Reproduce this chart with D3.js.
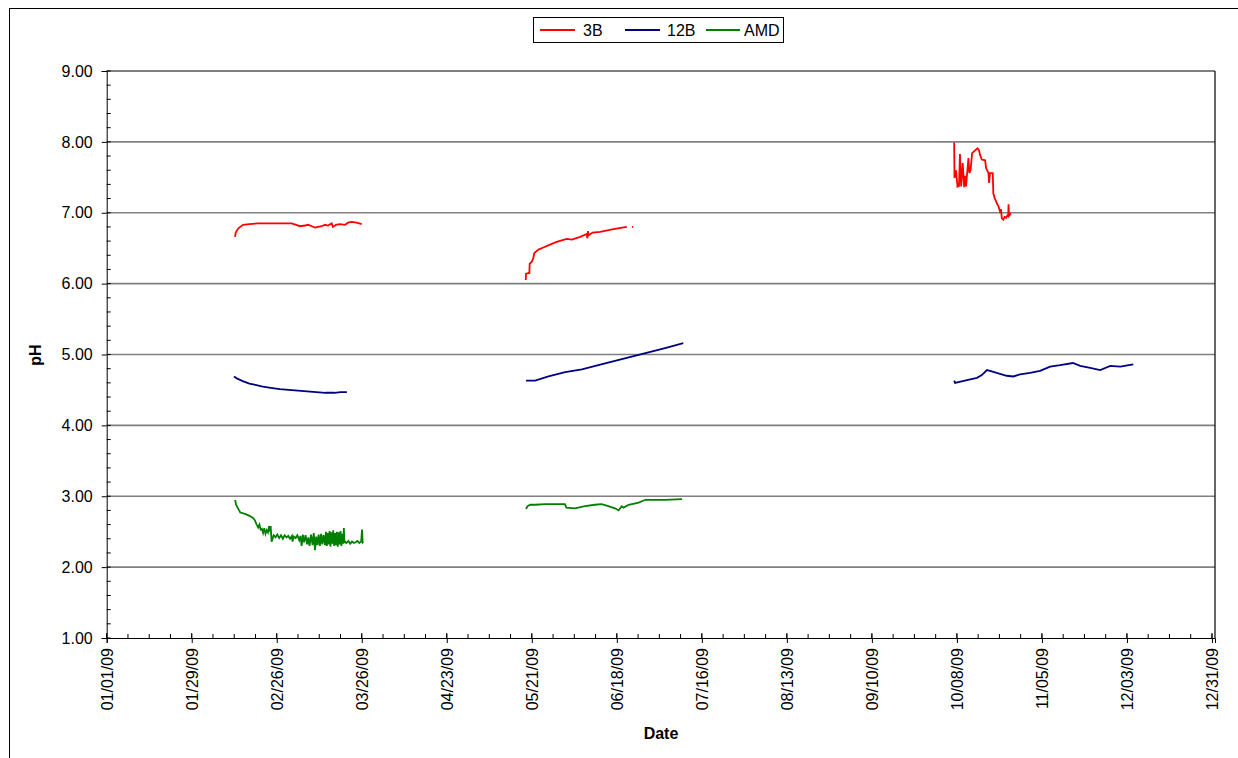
<!DOCTYPE html>
<html><head><meta charset="utf-8">
<script src="https://cdn.jsdelivr.net/npm/d3@7"></script>
<style>
html,body{margin:0;padding:0;background:#fff;}
svg{display:block;font-family:"Liberation Sans",Arial,sans-serif;}
</style></head>
<body>
<svg id="chart" width="1238" height="758"></svg>
<script>
// ---- data (day offsets since 01/01/09, pH values; null = gap) ----
const seriesNames = ["3B", "12B", "AMD"];
const seriesColors = ["#ff0000", "#000080", "#008000"];

const b3Days = [42.26,42.5,43.35,44.9,47,49.8,55.4,60.9,62.4,63.7,65.3,66.3,67.6,68.6,69.6,70.8,71.9,72.9,74.1,74.5,75.5,76.8,78.5,79.5,80.7,82.3,84.0,
  null,
  138.0,138.1,139.2,139.3,140.0,140.5,140.8,142.2,143.8,146.0,148.2,151.5,153.2,155.9,158.1,158.3,158.5,158.7,160,162.5,166.9,171.3,
  null,
  173.0,173.4,
  null,
  279.1,279.2,279.7,280.2,280.7,281.0,281.4,281.9,282.4,282.7,283.0,283.8,284.1,284.5,285.0,286.0,286.8,287.3,287.6,288.2,289.3,289.6,290.4,290.6,290.9,291.8,292.0,292.5,292.9,293.3,293.7,294.2,294.5,294.8,295.3,295.7,296.2,296.6,296.9,297.0,297.2,297.8];
const b3Vals = [6.66,6.72,6.78,6.83,6.84,6.85,6.85,6.85,6.83,6.81,6.82,6.83,6.81,6.79,6.80,6.81,6.83,6.82,6.85,6.80,6.83,6.84,6.83,6.86,6.87,6.86,6.84,
  null,
  6.05,6.14,6.15,6.28,6.31,6.36,6.43,6.48,6.51,6.55,6.59,6.63,6.62,6.66,6.70,6.64,6.74,6.68,6.72,6.73,6.77,6.80,
  null,
  6.80,6.80,
  null,
  7.99,7.49,7.60,7.37,7.38,7.83,7.37,7.70,7.36,7.52,7.37,7.77,7.56,7.60,7.84,7.88,7.91,7.88,7.82,7.75,7.74,7.63,7.56,7.42,7.56,7.56,7.27,7.20,7.16,7.12,7.09,7.02,7.05,6.92,6.90,6.94,6.93,6.96,6.95,7.12,6.96,6.99];

const b12Days = [41.9,43,45,47,49,51,54,57,60,63,66,69,72,75,77,79.1,
  null,
  138.1,141.1,145.5,151.0,156.5,161.9,167.4,172.9,178.4,183.9,189.9,
  null,
  279.1,279.4,283.3,286.6,288.2,289.9,290.9,293.1,296.4,298.6,300.8,304.1,307.4,310.7,314.0,318.2,320.6,323.9,327.2,330.5,333.8,338.1];
const b12Vals = [4.69,4.66,4.62,4.59,4.57,4.55,4.53,4.51,4.50,4.49,4.48,4.47,4.46,4.46,4.47,4.47,
  null,
  4.63,4.63,4.69,4.75,4.79,4.85,4.91,4.97,5.03,5.09,5.16,
  null,
  4.63,4.60,4.64,4.67,4.71,4.78,4.77,4.74,4.70,4.69,4.72,4.74,4.77,4.83,4.85,4.88,4.84,4.81,4.78,4.84,4.83,4.86];

const amdDays = [42.3,42.6,43.6,44,45.6,47.2,48.3,48.8,49.4,49.9,50.3,50.7,51.1,51.5,51.9,52.3,52.7,53.1,53.5,53.8,54.0,54.3,
  55.0,55.6,56.2,56.8,57.4,58.0,58.6,59.2,59.8,60.4,61.0,61.2,61.6,62.2,62.8,63.4,
  63.8,64.2,64.6,65.0,65.5,66.0,66.4,66.8,67.3,67.8,68.2,68.6,69.0,69.4,69.8,70.2,70.6,71.0,71.4,71.9,
  72.2,72.5,72.8,73.1,73.4,73.7,74.0,74.3,74.6,74.9,75.2,75.5,75.8,76.1,76.4,76.7,77.0,77.3,77.6,77.9,78.1,78.3,78.5,
  79.0,79.6,80.2,80.8,81.4,82.0,82.6,83.2,83.8,84.1,84.3,84.5,
  null,
  138.1,138.6,139.5,141.1,144.4,150.9,151.4,154.2,157.5,160.8,163.0,165.2,167.4,168.6,169.6,170.2,171.9,175.2,177.4,183.9,189.5];
const amdVals = [2.95,2.88,2.80,2.77,2.75,2.72,2.69,2.66,2.60,2.56,2.60,2.53,2.54,2.48,2.55,2.47,2.52,2.49,2.58,2.50,2.58,2.36,
  2.45,2.42,2.46,2.41,2.45,2.40,2.45,2.42,2.44,2.40,2.44,2.36,2.43,2.41,2.45,2.38,
  2.44,2.30,2.46,2.35,2.45,2.32,2.42,2.30,2.46,2.31,2.48,2.24,2.43,2.31,2.46,2.30,2.47,2.32,2.45,2.31,
  2.50,2.30,2.48,2.32,2.51,2.29,2.49,2.33,2.52,2.30,2.48,2.31,2.50,2.29,2.49,2.32,2.51,2.30,2.47,2.33,2.55,2.34,2.36,
  2.34,2.37,2.33,2.36,2.34,2.35,2.37,2.34,2.36,2.53,2.35,2.36,
  null,
  2.82,2.86,2.88,2.88,2.89,2.89,2.84,2.83,2.86,2.88,2.89,2.86,2.83,2.80,2.86,2.84,2.88,2.91,2.95,2.95,2.96];

const yTickValues = [1,2,3,4,5,6,7,8,9];
const xMajorDays = [0,28,56,84,112,140,168,196,224,252,280,308,336,364];

// ---- chart ----
const svg = d3.select("#chart");
const pL = 106.7, pR = 1215, pT = 71, pB = 638;
const base = Date.UTC(2009,0,1);
const dayToDate = d => new Date(base + d*864e5);

const x = d3.scaleUtc().domain([dayToDate(0), dayToDate(365)]).range([pL, pR]);
const y = d3.scaleLinear().domain([1,9]).range([pB, pT]);

// outer chart frame (partially visible)
svg.append("rect").attr("x",9.5).attr("y",8.5).attr("width",1400).attr("height",900)
  .attr("fill","none").attr("stroke","#000").attr("stroke-width",1);

// gridlines
svg.append("g").selectAll("line").data(yTickValues.filter(v=>v>1 && v<9)).join("line")
  .attr("x1",pL).attr("x2",pR).attr("y1",d=>y(d)).attr("y2",d=>y(d))
  .attr("stroke","#808080").attr("stroke-width",1.6);

// plot border top/right
svg.append("line").attr("x1",pL).attr("x2",pR).attr("y1",pT).attr("y2",pT).attr("stroke","#555").attr("stroke-width",1.6);
svg.append("line").attr("x1",pR).attr("x2",pR).attr("y1",pT).attr("y2",pB).attr("stroke","#000").attr("stroke-width",1.2);

// y axis
const yMinor = d3.range(1, 9.001, 0.2);
const yAxisG = svg.append("g").attr("transform",`translate(${pL},0)`);
yAxisG.append("g").selectAll("line").data(yMinor).join("line")
  .attr("x1",0).attr("x2",4).attr("y1",d=>y(d)).attr("y2",d=>y(d)).attr("stroke","#000");
yAxisG.call(d3.axisLeft(y).tickValues(yTickValues).tickFormat(d3.format(".2f")).tickSizeOuter(0).tickSize(5).tickPadding(9))
  .call(g=>g.selectAll("text").attr("font-size",16).attr("fill","#000").attr("font-family","Liberation Sans, Arial, sans-serif"))
  .call(g=>g.selectAll("line,path").attr("stroke","#000"));

// x axis
const xMinor = d3.range(0, 366, 7).map(dayToDate);
const xAxisG = svg.append("g").attr("transform",`translate(0,${pB})`);
xAxisG.append("g").selectAll("line").data(xMinor).join("line")
  .attr("x1",d=>x(d)).attr("x2",d=>x(d)).attr("y1",0).attr("y2",-4).attr("stroke","#000");
xAxisG.append("g").selectAll("line").data(xMajorDays.map(dayToDate)).join("line")
  .attr("x1",d=>x(d)).attr("x2",d=>x(d)).attr("y1",-5).attr("y2",0).attr("stroke","#000");
xAxisG.call(d3.axisBottom(x).tickValues(xMajorDays.map(dayToDate)).tickFormat(d3.utcFormat("%m/%d/%y")).tickSizeOuter(0).tickSize(5))
  .call(g=>g.selectAll("line,path").attr("stroke","#000"))
  .call(g=>g.selectAll("text").attr("font-size",16).attr("fill","#000")
     .attr("font-family","Liberation Sans, Arial, sans-serif")
     .attr("transform","rotate(-90)").attr("text-anchor","end")
     .attr("x",-10).attr("y",0).attr("dy","0.36em"));

// axis titles
svg.append("text").attr("x",661).attr("y",739).attr("text-anchor","middle")
  .attr("font-size",16).attr("font-weight","bold").text("Date");
svg.append("text").attr("transform","translate(41,355) rotate(-90)").attr("text-anchor","middle")
  .attr("font-size",16).attr("font-weight","bold").text("pH");

// series
const line = d3.line().defined(d=>d[1]!==null).x(d=>x(dayToDate(d[0]))).y(d=>y(d[1]));
const mk = (days, vals) => days.map((d,i)=>[d, vals[i]]);
const series = [mk(b3Days,b3Vals), mk(b12Days,b12Vals), mk(amdDays,amdVals)];
[2,1,0].forEach(i=>{
  svg.append("path").datum(series[i]).attr("d",line).attr("fill","none")
    .attr("stroke",seriesColors[i]).attr("stroke-width",1.8).attr("stroke-linejoin","miter");
});

// legend
const lg = svg.append("g");
lg.append("rect").attr("x",533.5).attr("y",17.5).attr("width",250).attr("height",25).attr("fill","#fff").attr("stroke","#000");
const legItems = [{x:540,w:35,tx:583},{x:625,w:35,tx:667},{x:706,w:34,tx:744}];
seriesNames.forEach((n,i)=>{
  const it = legItems[i];
  lg.append("line").attr("x1",it.x).attr("x2",it.x+it.w).attr("y1",30).attr("y2",30)
    .attr("stroke",seriesColors[i]).attr("stroke-width",1.8);
  lg.append("text").attr("x",it.tx).attr("y",36).attr("font-size",16).text(n);
});
</script>
</body></html>
